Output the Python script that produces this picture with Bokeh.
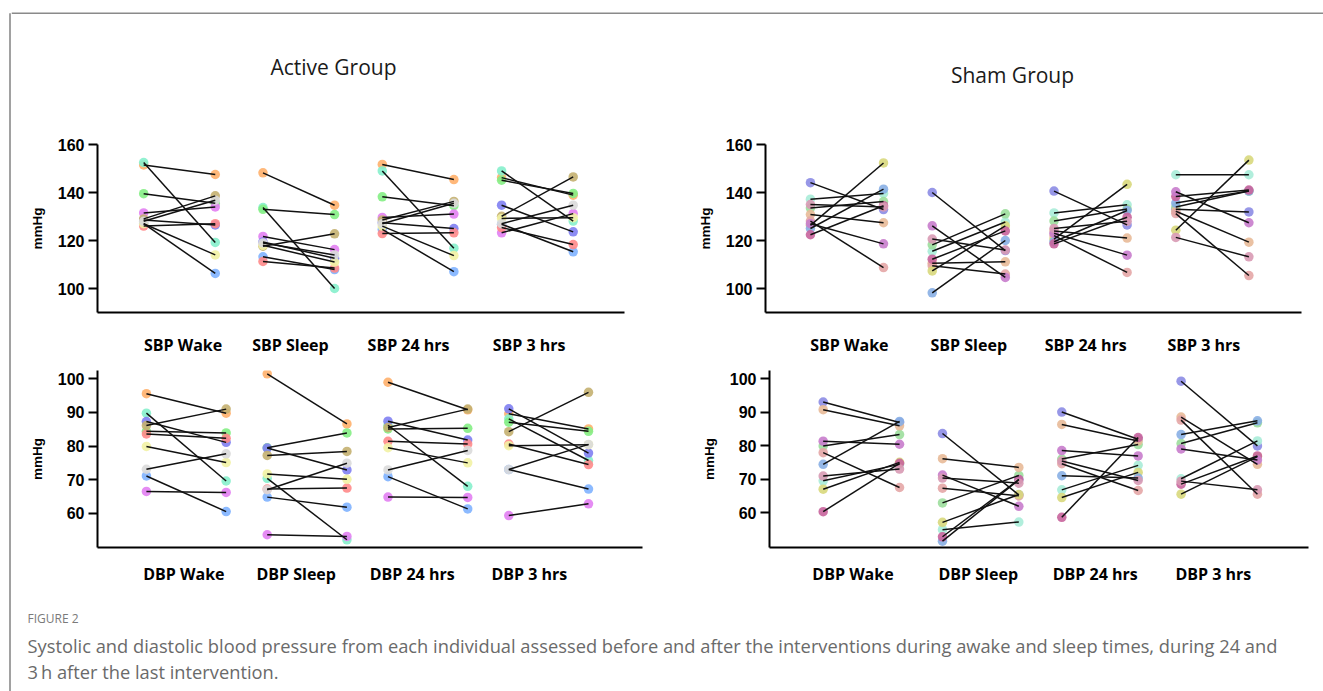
from bokeh.plotting import figure
from bokeh.models import Range1d, FixedTicker, ColumnDataSource
from bokeh.layouts import row, column
from bokeh.core.properties import value
from bokeh.embed import file_html
from bokeh.resources import INLINE

# ---------------- data ----------------
sbp_categories = ["SBP Wake", "SBP Sleep", "SBP 24 hrs", "SBP 3 hrs"]
dbp_categories = ["DBP Wake", "DBP Sleep", "DBP 24 hrs", "DBP 3 hrs"]
sbp_ticks = [100, 120, 140, 160]
dbp_ticks = [60, 70, 80, 90, 100]
group_titles = ["Active Group", "Sham Group"]
y_label = "mmHg"
figure_label = "FIGURE 2"
caption_lines = [
    "Systolic and diastolic blood pressure from each individual assessed before and after the interventions during awake and sleep times, during 24 and",
    "3\u2009h after the last intervention.",
]

# Active group subjects: orange, aqua, green, violet, blue, lightblue, salmon, khaki, yellow, grey
active_colors = ["#ffb06c", "#86f0cc", "#84ee84", "#e27ff2", "#8080f2", "#80b2ff",
                 "#ff8a8a", "#c4b070", "#f2f2a4", "#dadada"]
act_sbp_wake_pre = [151.5, 152.5, 139.5, 131.5, 128.5, 127.0, 126.0, 129.0, 127.0, 128.0]
act_sbp_wake_post = [147.5, 119.2, 135.5, 134.0, 126.5, 106.3, 127.0, 138.6, 114.0, 136.8]
act_sbp_sleep_pre = [148.2, 133.7, 133.0, 121.7, 119.4, 113.2, 111.3, 117.6, 118.0, 119.0]
act_sbp_sleep_post = [134.7, 100.0, 130.8, 116.2, 112.6, 107.9, 108.5, 122.8, 111.0, 114.0]
act_sbp_24_pre = [151.7, 149.0, 138.2, 129.6, 127.4, 124.6, 122.9, 128.5, 126.0, 127.0]
act_sbp_24_post = [145.4, 116.8, 134.5, 131.0, 125.0, 107.0, 123.2, 136.3, 113.7, 135.5]
act_sbp_3_pre = [146.2, 149.0, 145.1, 123.2, 134.7, 126.8, 125.4, 130.1, 129.2, 127.0]
act_sbp_3_post = [138.9, 128.1, 139.6, 131.2, 123.6, 115.3, 118.3, 146.5, 129.5, 134.7]
act_dbp_wake_pre = [95.6, 89.8, 84.4, 66.5, 87.3, 71.1, 83.6, 86.1, 79.9, 73.1]
act_dbp_wake_post = [89.8, 69.6, 83.9, 66.2, 81.1, 60.5, 82.3, 91.0, 75.1, 77.7]
act_dbp_sleep_pre = [101.5, 70.4, 79.5, 53.6, 79.4, 64.8, 67.2, 77.2, 71.7, 67.0]
act_dbp_sleep_post = [86.6, 52.1, 83.9, 53.1, 72.9, 61.8, 67.5, 78.4, 70.1, 74.9]
act_dbp_24_pre = [99.0, 86.2, 85.1, 64.8, 87.4, 70.9, 81.4, 85.5, 79.5, 72.9]
act_dbp_24_post = [90.8, 68.0, 85.3, 64.7, 81.8, 61.3, 80.6, 91.0, 75.0, 78.7]
act_dbp_3_pre = [89.6, 88.1, 87.1, 59.3, 91.1, 73.0, 80.6, 84.3, 80.1, 73.0]
act_dbp_3_post = [85.1, 75.7, 84.4, 62.8, 77.9, 67.2, 74.5, 96.0, 80.4, 80.5]

# Sham group subjects: periwinkle, teal, green, peach, pink, khaki, steelblue, magenta, violet, rose
sham_colors = ["#8c8ce4", "#a8ecd8", "#9cde9c", "#e8ba98", "#e4a6a6", "#d8d87c",
               "#88afe4", "#c8649c", "#c87ccc", "#d89ab4"]
sham_sbp_wake_pre = [144.1, 137.2, 133.5, 130.8, 128.1, 126.3, 125.0, 122.4, 127.0, 135.0]
sham_sbp_wake_post = [132.9, 139.6, 136.2, 127.4, 108.7, 152.3, 141.4, 134.5, 118.6, 134.0]
sham_sbp_sleep_pre = [140.0, 115.5, 118.2, 110.5, 109.5, 107.3, 98.2, 112.2, 126.1, 120.6]
sham_sbp_sleep_post = [115.8, 127.7, 131.1, 111.1, 106.0, 126.1, 120.0, 124.0, 104.6, 116.0]
sham_sbp_24_pre = [140.6, 131.5, 128.1, 124.0, 122.0, 120.6, 119.5, 118.6, 123.0, 125.0]
sham_sbp_24_post = [126.5, 134.9, 133.1, 121.0, 106.7, 143.4, 132.5, 129.7, 113.9, 128.0]
sham_sbp_3_pre = [133.0, 147.4, 134.0, 132.2, 131.2, 124.3, 135.6, 138.3, 140.3, 121.3]
sham_sbp_3_post = [131.9, 147.4, 140.6, 119.3, 105.4, 153.5, 140.6, 141.0, 127.4, 113.2]
sham_dbp_wake_pre = [93.1, 69.6, 80.0, 90.8, 78.0, 67.1, 74.5, 60.4, 81.4, 71.0]
sham_dbp_wake_post = [87.0, 74.5, 83.4, 86.0, 67.6, 75.1, 87.3, 74.8, 80.5, 73.1]
sham_dbp_sleep_pre = [83.7, 55.0, 63.0, 76.2, 67.4, 57.2, 51.6, 52.9, 71.3, 70.4]
sham_dbp_sleep_post = [65.4, 57.3, 71.2, 73.6, 65.1, 65.5, 69.9, 70.0, 62.0, 68.9]
sham_dbp_24_pre = [90.1, 66.9, 76.1, 86.4, 74.7, 64.6, 71.1, 58.7, 78.6, 75.5]
sham_dbp_24_post = [82.0, 74.2, 80.4, 81.5, 66.7, 72.1, 70.4, 82.5, 77.0, 69.7]
sham_dbp_3_pre = [99.3, 70.2, 80.7, 88.6, 87.7, 65.6, 83.4, 68.6, 79.1, 69.5]
sham_dbp_3_post = [80.0, 81.5, 86.9, 74.5, 65.6, 76.8, 87.5, 77.0, 75.8, 66.9]

# ---------------- helpers ----------------
FONT_AX = "Liberation Sans"
FONT_CAT = "Open Sans"


def deco_fig(w, h):
    p = figure(width=w, height=h, x_range=Range1d(0, w), y_range=Range1d(h, 0),
               output_backend="svg", toolbar_location=None, min_border=0,
               x_axis_location=None, y_axis_location=None)
    p.grid.visible = False
    p.outline_line_color = None
    p.background_fill_color = "white"
    p.border_fill_color = "white"
    return p


def panel(width, height, b_left, b_right, b_top, b_bottom, xr, yr, yticks,
          cats, label_pos, pres, posts, colors, half, label_standoff):
    p = figure(width=width, height=height, x_range=Range1d(*xr), y_range=Range1d(*yr),
               output_backend="svg", toolbar_location=None)
    p.min_border_left = b_left
    p.min_border_right = b_right
    p.min_border_top = b_top
    p.min_border_bottom = b_bottom
    p.grid.visible = False
    p.outline_line_color = None
    x0, y0, x1, y1, col = [], [], [], [], []
    for i, (pre, post) in enumerate(zip(pres, posts)):
        for j in range(len(pre)):
            x0.append(i - half)
            x1.append(i + half)
            y0.append(pre[j])
            y1.append(post[j])
            col.append(colors[j])
    src = ColumnDataSource(dict(x0=x0, y0=y0, x1=x1, y1=y1, c=col))
    p.scatter("x0", "y0", source=src, size=9.5, fill_color="c", fill_alpha=0.9, line_color=None)
    p.scatter("x1", "y1", source=src, size=9.5, fill_color="c", fill_alpha=0.9, line_color=None)
    p.segment("x0", "y0", "x1", "y1", source=src, line_color="#111111", line_width=1.5)

    ya = p.yaxis[0]
    ya.ticker = FixedTicker(ticks=yticks)
    ya.axis_line_width = 2
    ya.axis_line_color = "black"
    ya.major_tick_line_width = 2
    ya.major_tick_out = 9
    ya.major_tick_in = 0
    ya.minor_tick_out = 0
    ya.minor_tick_in = 0
    ya.major_label_standoff = 4
    ya.major_label_text_font = FONT_AX
    ya.major_label_text_font_style = "bold"
    ya.major_label_text_font_size = "16px"
    ya.major_label_text_color = "black"
    ya.axis_label = y_label
    ya.axis_label_text_font = FONT_AX
    ya.axis_label_text_font_style = "bold"
    ya.axis_label_text_font_size = "13.5px"
    ya.axis_label_standoff = 10
    ya.axis_label_text_color = "black"

    xa = p.xaxis[0]
    xa.ticker = FixedTicker(ticks=label_pos)
    xa.major_label_overrides = {pos: c for pos, c in zip(label_pos, cats)}
    xa.axis_line_width = 2
    xa.axis_line_color = "black"
    xa.major_tick_out = 0
    xa.major_tick_in = 0
    xa.minor_tick_out = 0
    xa.minor_tick_in = 0
    xa.major_label_standoff = label_standoff
    xa.major_label_text_font = FONT_CAT
    xa.major_label_text_font_style = "bold"
    xa.major_label_text_font_size = "16px"
    xa.major_label_text_color = "black"
    return p


# ---------------- panels ----------------
a_sbp = panel(654, 240, 86, 41, 24, 48, (-0.687, 3.73), (90, 160), sbp_ticks,
              sbp_categories, [0.03, 0.93, 1.92, 2.93],
              [act_sbp_wake_pre, act_sbp_sleep_pre, act_sbp_24_pre, act_sbp_3_pre],
              [act_sbp_wake_post, act_sbp_sleep_post, act_sbp_24_post, act_sbp_3_post],
              active_colors, 0.30, 21)
s_sbp = panel(658, 240, 100, 22, 20, 48, (-0.669, 3.732), (90, 160), sbp_ticks,
              sbp_categories, [0.02, 1.0, 1.96, 2.93],
              [sham_sbp_wake_pre, sham_sbp_sleep_pre, sham_sbp_24_pre, sham_sbp_3_pre],
              [sham_sbp_wake_post, sham_sbp_sleep_post, sham_sbp_24_post, sham_sbp_3_post],
              sham_colors, 0.30, 21)
a_dbp = panel(654, 240, 86, 23, 10, 53, (-0.735, 3.777), (49.8, 102.5), dbp_ticks,
              dbp_categories, [-0.02, 0.91, 1.87, 2.84],
              [act_dbp_wake_pre, act_dbp_sleep_pre, act_dbp_24_pre, act_dbp_3_pre],
              [act_dbp_wake_post, act_dbp_sleep_post, act_dbp_24_post, act_dbp_3_post],
              active_colors, 0.33, 15)
s_dbp = panel(658, 240, 104, 15, 10, 52, (-0.770, 3.748), (49.7, 102.5), dbp_ticks,
              dbp_categories, [-0.07, 0.98, 1.96, 2.95],
              [sham_dbp_wake_pre, sham_dbp_sleep_pre, sham_dbp_24_pre, sham_dbp_3_pre],
              [sham_dbp_wake_post, sham_dbp_sleep_post, sham_dbp_24_post, sham_dbp_3_post],
              sham_colors, 0.32, 15)

# ---------------- decoration ----------------
strip = deco_fig(11, 691)
strip.segment(x0=[9.5], y0=[12.7], x1=[9.5], y1=[691], line_color="#8a8a8a", line_width=1.6)

header = deco_fig(1312, 120)
header.segment(x0=[0], y0=[12.7], x1=[1312], y1=[12.7], line_color="#8a8a8a", line_width=1.6)
header.text(x=[322, 1001], y=[66.7, 74], text=group_titles, text_align="center",
            text_baseline="middle", text_font=value("Open Sans"), text_font_size="21px",
            text_color="#1a1a1a")

caption = deco_fig(1312, 91)
caption.text(x=[16], y=[18], text=[figure_label], text_align="left", text_baseline="middle",
             text_font=value("Open Sans"), text_font_size="12px", text_color="#7a7a7a")
caption.text(x=[16, 16], y=[45, 71], text=caption_lines, text_align="left",
             text_baseline="middle", text_font=value("Open Sans"), text_font_size="18.3px",
             text_color="#6a6a6a")

layout = row(strip, column(header, row(a_sbp, s_sbp), row(a_dbp, s_dbp), caption))

open("out.html", "w").write(file_html(layout, INLINE))
